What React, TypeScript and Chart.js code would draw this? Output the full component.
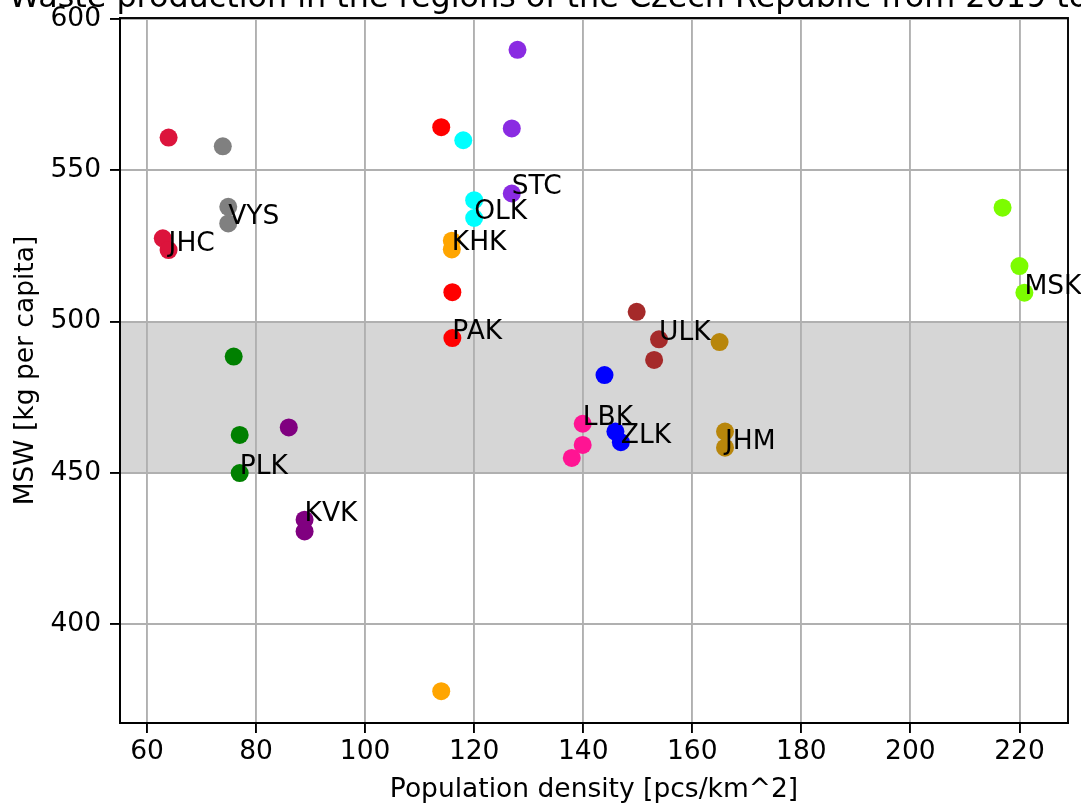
import React, { useEffect, useRef } from "react";
import { Chart, registerables } from "chart.js";

Chart.register(...registerables);

const TITLE = "Waste production in the regions of the Czech Republic from 2019 to 2021";
const X_TITLE = "Population density [pcs/km^2]";
const Y_TITLE = "MSW [kg per capita]";

const regions = ["JHC", "VYS", "PLK", "KVK", "PAK", "OLK", "KHK", "STC", "ULK", "LBK", "ZLK", "JHM", "MSK"];
const colors = [
  "#DC143C", "#808080", "#008000", "#800080", "#FF0000", "#00FFFF", "#FFA500",
  "#8A2BE2", "#A52A2A", "#FF1493", "#0000FF", "#B8860B", "#7CFC00",
];
const density = [
  [63.96, 62.9, 63.96],
  [73.9, 74.9, 74.9],
  [75.9, 77.0, 77.0],
  [86.0, 88.9, 88.9],
  [113.96, 116.0, 116.0],
  [118.0, 120.0, 120.0],
  [115.9, 115.9, 113.96],
  [127.95, 126.9, 126.9],
  [149.8, 153.9, 153.0],
  [139.9, 139.9, 137.9],
  [143.9, 145.9, 146.9],
  [165.0, 166.0, 166.0],
  [216.9, 220.0, 220.9],
];
const msw = [
  [560.8, 527.5, 523.6],
  [557.9, 537.9, 532.4],
  [488.4, 462.5, 449.9],
  [465.0, 434.5, 430.6],
  [564.2, 509.7, 494.5],
  [559.9, 540.1, 534.2],
  [526.7, 523.8, 377.8],
  [589.8, 563.8, 542.3],
  [503.2, 494.1, 487.3],
  [466.2, 459.2, 454.9],
  [482.3, 463.6, 460.1],
  [493.2, 463.6, 458.3],
  [537.6, 518.3, 509.5],
];
const labelIdx = [2, 2, 2, 1, 2, 2, 1, 2, 1, 0, 2, 2, 2];

const xTicks = [60, 80, 100, 120, 140, 160, 180, 200, 220];
const yTicks = [400, 450, 500, 550, 600];
const band = [450, 500];
const xRange = [55.05, 228.9];
const yRange = [367.3, 600.3];

const FONT = "DejaVu Sans";
const FS = 26.5;

export default function App() {
  const ref = useRef<HTMLCanvasElement | null>(null);
  useEffect(() => {
    if (!ref.current) return;
    const bandPlugin = {
      id: "band",
      beforeDraw(chart: any) {
        const { ctx, chartArea, scales } = chart;
        const y1 = scales.y.getPixelForValue(band[1]);
        const y0 = scales.y.getPixelForValue(band[0]);
        ctx.save();
        ctx.fillStyle = "#d6d6d6";
        ctx.fillRect(chartArea.left, y1, chartArea.right - chartArea.left, y0 - y1);
        ctx.restore();
      },
    };
    const labelPlugin = {
      id: "labels",
      afterDatasetsDraw(chart: any) {
        const { ctx } = chart;
        ctx.save();
        ctx.font = `${FS}px "${FONT}"`;
        ctx.fillStyle = "#000";
        ctx.textAlign = "left";
        ctx.textBaseline = "alphabetic";
        regions.forEach((r, i) => {
          const el = chart.getDatasetMeta(i).data[labelIdx[i]];
          if (el) ctx.fillText(r, el.x, el.y + 1);
        });
        ctx.restore();
      },
      afterDraw(chart: any) {
        const { ctx, chartArea } = chart;
        ctx.save();
        ctx.strokeStyle = "#000";
        ctx.lineWidth = 1.9;
        ctx.strokeRect(chartArea.left, chartArea.top, chartArea.right - chartArea.left, chartArea.bottom - chartArea.top);
        ctx.fillStyle = "#000";
        ctx.font = `${FS * 1.2}px "${FONT}"`;
        ctx.textAlign = "center";
        ctx.textBaseline = "alphabetic";
        const cx = (chartArea.left + chartArea.right) / 2;
        ctx.fillText(TITLE, cx, 7);
        ctx.font = `${FS}px "${FONT}"`;
        ctx.fillText(X_TITLE, cx, 797);
        ctx.translate(33, (chartArea.top + chartArea.bottom) / 2);
        ctx.rotate(-Math.PI / 2);
        ctx.fillText(Y_TITLE, 0, 0);
        ctx.restore();
      },
    };
    const chart = new Chart(ref.current, {
      type: "scatter",
      data: {
        datasets: regions.map((r, i) => ({
          label: r,
          data: density[i].map((x, j) => ({ x, y: msw[i][j] })),
          backgroundColor: colors[i],
          borderWidth: 0,
          pointRadius: 9,
          pointHoverRadius: 9,
        })),
      },
      options: {
        responsive: false,
        animation: false,
        devicePixelRatio: 1,
        layout: { padding: { left: 0, right: 13, top: 18, bottom: 0 } },
        plugins: { legend: { display: false }, tooltip: { enabled: false }, title: { display: false } },
        scales: {
          x: {
            type: "linear",
            min: xRange[0],
            max: xRange[1],
            afterFit: (s: any) => { s.height = 82; s.paddingLeft = 0; s.paddingRight = 0; },
            afterBuildTicks: (s: any) => { s.ticks = xTicks.map((v) => ({ value: v })); },
            grid: { color: "#b0b0b0", lineWidth: 1.9, tickLength: 10, tickColor: "#000", tickWidth: 1.9 },
            border: { display: true, color: "#000", width: 1.9 },
            ticks: { font: { family: FONT, size: FS }, color: "#000", padding: 3, maxRotation: 0, autoSkip: false },
          },
          y: {
            type: "linear",
            min: yRange[0],
            max: yRange[1],
            afterFit: (s: any) => { s.width = 120; s.paddingTop = 0; s.paddingBottom = 0; },
            afterBuildTicks: (s: any) => { s.ticks = yTicks.map((v) => ({ value: v })); },
            grid: { color: "#b0b0b0", lineWidth: 1.9, tickLength: 10, tickColor: "#000", tickWidth: 1.9 },
            border: { display: true, color: "#000", width: 1.9 },
            ticks: { font: { family: FONT, size: FS }, color: "#000", padding: 9, autoSkip: false },
          },
        },
      },
      plugins: [bandPlugin, labelPlugin],
    });
    return () => chart.destroy();
  }, []);
  return (
    <div style={{ position: "fixed", left: 0, top: 0, width: 1081, height: 805, background: "#fff" }}>
      <canvas ref={ref} width={1081} height={805} style={{ width: 1081, height: 805 }} />
    </div>
  );
}
